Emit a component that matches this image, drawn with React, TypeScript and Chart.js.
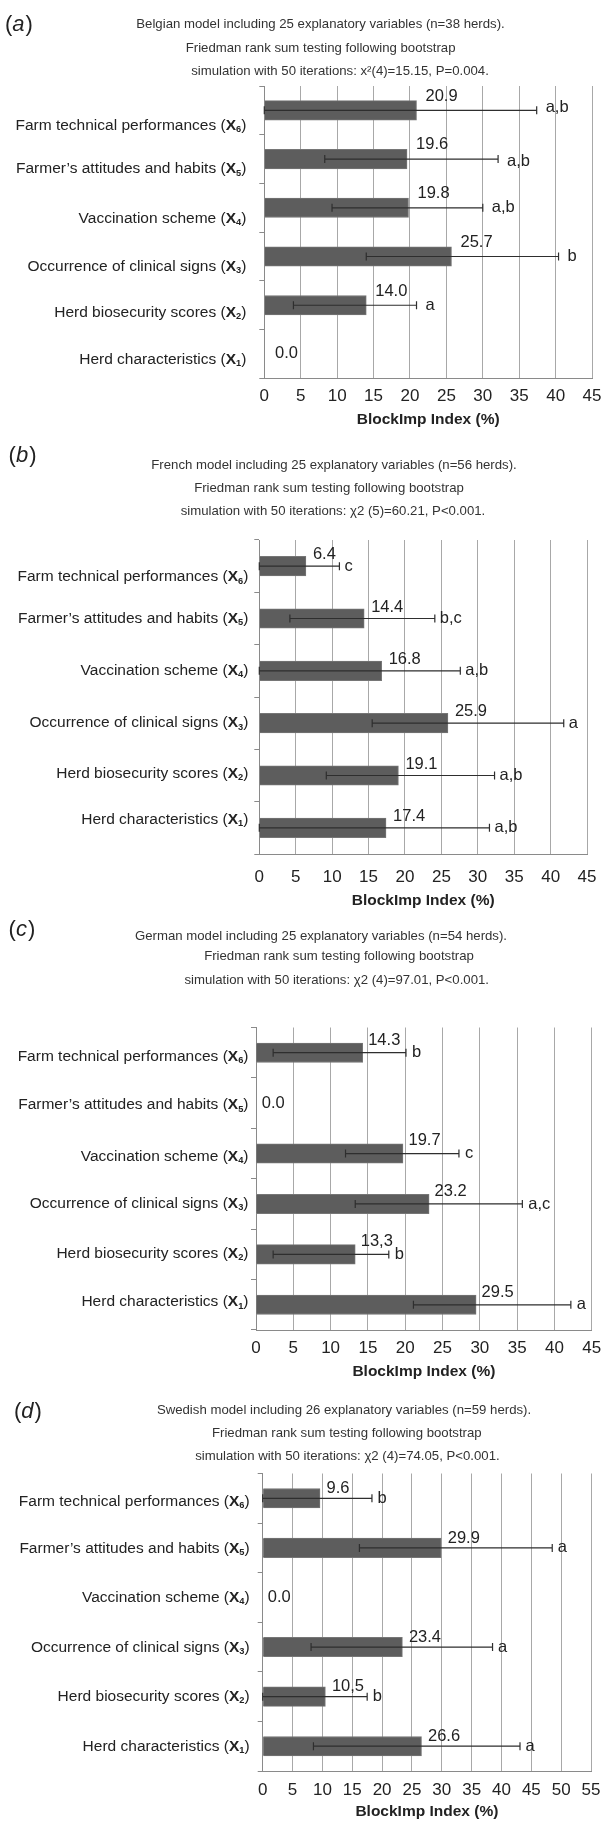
import React, { useEffect, useRef } from "react";
import { Chart, registerables } from "chart.js";

Chart.register(...registerables);

const FAMILY = '"Liberation Sans", Arial, Helvetica, sans-serif';

// Categories (top to bottom) and their block subscripts
const categories = [
  "Farm technical performances",
  "Farmer’s attitudes and habits",
  "Vaccination scheme",
  "Occurrence of clinical signs",
  "Herd biosecurity scores",
  "Herd characteristics",
];
const blockSubscripts = ["6", "5", "4", "3", "2", "1"];
const axisTitle = "BlockImp Index (%)";

// (a) Belgium
const titleA = [
  "Belgian model including 25 explanatory variables (n=38 herds).",
  "Friedman rank sum testing following bootstrap",
  "simulation with 50 iterations: x²(4)=15.15, P=0.004.",
];
const valuesA = [20.9, 19.6, 19.8, 25.7, 14.0, 0.0];
const valueTextA = ["20.9", "19.6", "19.8", "25.7", "14.0", "0.0"];
const lowA = [0, 8.3, 9.3, 14.0, 4.0, null];
const highA = [37.4, 32.1, 30.0, 40.4, 20.9, null];
const groupsA = ["a,b", "a,b", "a,b", "b", "a", ""];
const xMaxA = 45;

// (b) France
const titleB = [
  "French model including 25 explanatory variables (n=56 herds).",
  "Friedman rank sum testing following bootstrap",
  "simulation with 50 iterations: χ2 (5)=60.21, P<0.001.",
];
const valuesB = [6.4, 14.4, 16.8, 25.9, 19.1, 17.4];
const valueTextB = ["6.4", "14.4", "16.8", "25.9", "19.1", "17.4"];
const lowB = [0, 4.2, 0, 15.5, 9.2, 0];
const highB = [11.0, 24.1, 27.6, 41.8, 32.3, 31.6];
const groupsB = ["c", "b,c", "a,b", "a", "a,b", "a,b"];
const xMaxB = 45;

// (c) Germany
const titleC = [
  "German model including 25 explanatory variables (n=54 herds).",
  "Friedman rank sum testing following bootstrap",
  "simulation with 50 iterations: χ2 (4)=97.01, P<0.001.",
];
const valuesC = [14.3, 0.0, 19.7, 23.2, 13.3, 29.5];
const valueTextC = ["14.3", "0.0", "19.7", "23.2", "13,3", "29.5"];
const lowC = [2.3, null, 12.0, 13.3, 2.3, 21.1];
const highC = [20.1, null, 27.2, 35.7, 17.8, 42.2];
const groupsC = ["b", "", "c", "a,c", "b", "a"];
const xMaxC = 45;

// (d) Sweden
const titleD = [
  "Swedish model including 26 explanatory variables (n=59 herds).",
  "Friedman rank sum testing following bootstrap",
  "simulation with 50 iterations: χ2 (4)=74.05, P<0.001.",
];
const valuesD = [9.6, 29.9, 0.0, 23.4, 10.5, 26.6];
const valueTextD = ["9.6", "29.9", "0.0", "23.4", "10,5", "26.6"];
const lowD = [0, 16.2, null, 8.1, 0, 8.5];
const highD = [18.3, 48.5, null, 38.5, 17.5, 43.1];
const groupsD = ["b", "a", "", "a", "b", "a"];
const xMaxD = 55;

const tickStep = 5;

type Panel = {
  letter: string;
  title: string[];
  values: number[];
  valueText: string[];
  low: (number | null)[];
  high: (number | null)[];
  groups: string[];
  xMax: number;
  top: number;
  bottom: number;
  plot: { l: number; r: number; t: number; b: number };
  tickDy: number;
  titleDy: number;
  letterPos: { x: number; y: number };
  titleYs: number[];
  titleXs: number[];
  labelDx: number;
  labelDy: number;
  zeroDx: number;
  catDy: number[];
  catGap: number;
  errGap: number;
  groupDy: number[];
};

const panels: Panel[] = [
  {
    letter: "a", title: titleA, values: valuesA, valueText: valueTextA, low: lowA, high: highA, groups: groupsA, xMax: xMaxA,
    top: 0, bottom: 440, plot: { l: 264.3, r: 597.7, t: 86, b: 378.3 },
    tickDy: 18, titleDy: 41.7, letterPos: { x: 5, y: 25 },
    titleYs: [24.3, 48.3, 71], titleXs: [320.5, 320.6, 340],
    labelDx: 9, labelDy: -4.5, zeroDx: 10.7, catDy: [15, 10, 10.5, 10, 7.5, 6], catGap: 18, errGap: 9,
    groupDy: [-3, 2, 0, 0, 0, 0],
  },
  {
    letter: "b", title: titleB, values: valuesB, valueText: valueTextB, low: lowB, high: highB, groups: groupsB, xMax: xMaxB,
    top: 440, bottom: 915, plot: { l: 259.3, r: 598.3, t: 540, b: 854 },
    tickDy: 23, titleDy: 47, letterPos: { x: 8.6, y: 456 },
    titleYs: [465, 488.3, 511], titleXs: [334, 329, 333],
    labelDx: 7, labelDy: -1.5, zeroDx: 8, catDy: [11, 0, 0, 0, -2, -8.5], catGap: 11, errGap: 5,
    groupDy: [0, 0, 0, 0, 0, 0],
  },
  {
    letter: "c", title: titleC, values: valuesC, valueText: valueTextC, low: lowC, high: highC, groups: groupsC, xMax: xMaxC,
    top: 915, bottom: 1390, plot: { l: 256, r: 599.3, t: 1027.5, b: 1330 },
    tickDy: 18.3, titleDy: 41.7, letterPos: { x: 8.6, y: 930 },
    titleYs: [936.7, 956.7, 980], titleXs: [321, 339, 336.7],
    labelDx: 5.5, labelDy: -3, zeroDx: 5.7, catDy: [3.7, 2, 3.3, 0, -1, -2.7], catGap: 7.5, errGap: 6,
    groupDy: [0, 0, 0, 0, 0, 0],
  },
  {
    letter: "d", title: titleD, values: valuesD, valueText: valueTextD, low: lowD, high: highD, groups: groupsD, xMax: xMaxD,
    top: 1390, bottom: 1821, plot: { l: 262.7, r: 600.7, t: 1473.5, b: 1771 },
    tickDy: 19, titleDy: 41, letterPos: { x: 14, y: 1411.7 },
    titleYs: [1410, 1433.3, 1456.7], titleXs: [344, 346.8, 347.4],
    labelDx: 6.5, labelDy: 0, zeroDx: 5, catDy: [3, 0.7, 0, 0.7, 0, 0.7], catGap: 13, errGap: 5.5,
    groupDy: [0, 0, 0, 0, 0, 0],
  },
];

const TEXT = "#222222";
const CAT_SIZE = 15.5;
const VAL_SIZE = 16.5;
const TICK_SIZE = 17;
const TITLE_SIZE = 13.2;
const AXIS_TITLE_SIZE = 15.5;

function drawCategoryLabel(ctx: CanvasRenderingContext2D, name: string, sub: string, xRight: number, y: number) {
  const parts = [
    { t: name + " (", f: `${CAT_SIZE}px ${FAMILY}`, dy: 0 },
    { t: "X", f: `bold ${CAT_SIZE}px ${FAMILY}`, dy: 0 },
    { t: sub, f: `bold ${CAT_SIZE * 0.6}px ${FAMILY}`, dy: CAT_SIZE * 0.25 },
    { t: ")", f: `${CAT_SIZE}px ${FAMILY}`, dy: 0 },
  ];
  let total = 0;
  const widths = parts.map((p) => {
    ctx.font = p.f;
    const w = ctx.measureText(p.t).width;
    total += w;
    return w;
  });
  let x = xRight - total;
  ctx.textAlign = "left";
  ctx.textBaseline = "middle";
  ctx.fillStyle = TEXT;
  parts.forEach((p, i) => {
    ctx.font = p.f;
    ctx.fillText(p.t, x, y + p.dy);
    x += widths[i];
  });
}

function makePlugin(p: Panel) {
  return {
    id: "annot_" + p.letter,
    afterDatasetsDraw(chart: any) {
      const ctx: CanvasRenderingContext2D = chart.ctx;
      const xs = chart.scales.x;
      const ys = chart.scales.y;
      const meta = chart.getDatasetMeta(0);
      ctx.save();

      // panel letter
      ctx.textBaseline = "middle";
      ctx.textAlign = "left";
      ctx.fillStyle = TEXT;
      const ly = p.letterPos.y - p.top;
      let lx = p.letterPos.x;
      ctx.font = `22px ${FAMILY}`;
      ctx.fillText("(", lx, ly);
      lx += ctx.measureText("(").width;
      ctx.font = `italic 22px ${FAMILY}`;
      ctx.fillText(p.letter, lx, ly);
      lx += ctx.measureText(p.letter).width + 1;
      ctx.font = `22px ${FAMILY}`;
      ctx.fillText(")", lx, ly);

      // title lines
      ctx.font = `${TITLE_SIZE}px ${FAMILY}`;
      ctx.fillStyle = "#333333";
      ctx.textAlign = "center";
      p.title.forEach((line, i) => {
        ctx.fillText(line, p.titleXs[i], p.titleYs[i] - p.top);
      });

      // category labels
      categories.forEach((name, i) => {
        const y = ys.getPixelForValue(i) + p.catDy[i];
        drawCategoryLabel(ctx, name, blockSubscripts[i], xs.left - p.catGap, y);
      });

      // error bars, group letters and value labels
      meta.data.forEach((bar: any, i: number) => {
        const y = bar.y;
        const lo = p.low[i];
        const hi = p.high[i];
        if (lo !== null && hi !== null) {
          const x1 = xs.getPixelForValue(lo);
          const x2 = xs.getPixelForValue(hi);
          ctx.strokeStyle = "#2e2e2e";
          ctx.lineWidth = 1.2;
          ctx.beginPath();
          ctx.moveTo(x1, y);
          ctx.lineTo(x2, y);
          ctx.moveTo(x1, y - 4);
          ctx.lineTo(x1, y + 4);
          ctx.moveTo(x2, y - 4);
          ctx.lineTo(x2, y + 4);
          ctx.stroke();
          if (p.groups[i]) {
            ctx.font = `${VAL_SIZE}px ${FAMILY}`;
            ctx.fillStyle = TEXT;
            ctx.textAlign = "left";
            ctx.textBaseline = "middle";
            ctx.fillText(p.groups[i], x2 + p.errGap, y + p.groupDy[i]);
          }
        }
        ctx.font = `${VAL_SIZE}px ${FAMILY}`;
        ctx.fillStyle = TEXT;
        ctx.textAlign = "left";
        ctx.textBaseline = "middle";
        const v = p.values[i];
        if (v === 0) {
          ctx.fillText(p.valueText[i], xs.getPixelForValue(0) + p.zeroDx, y);
        } else {
          const topY = y - bar.height / 2;
          ctx.fillText(p.valueText[i], bar.x + p.labelDx, topY + p.labelDy);
        }
      });
      ctx.restore();
    },
  };
}

function PanelChart({ p }: { p: Panel }) {
  const ref = useRef<HTMLCanvasElement | null>(null);
  useEffect(() => {
    if (!ref.current) return;
    const H = p.titleDy + AXIS_TITLE_SIZE / 2;
    const height = p.bottom - p.top;
    const chart = new Chart(ref.current, {
      type: "bar",
      data: {
        labels: categories,
        datasets: [
          {
            data: p.values,
            backgroundColor: "#5d5d5d",
            borderColor: "#767676",
            borderWidth: 1,
            barThickness: 19.5,
          },
        ],
      },
      options: {
        indexAxis: "y",
        responsive: false,
        maintainAspectRatio: false,
        animation: false,
        devicePixelRatio: 1,
        layout: {
          padding: {
            left: p.plot.l,
            right: 611 - p.plot.r,
            top: p.plot.t - p.top,
            bottom: Math.max(0, height - (p.plot.b - p.top) - H),
          },
        },
        plugins: {
          legend: { display: false },
          tooltip: { enabled: false },
          title: { display: false },
        },
        scales: {
          x: {
            type: "linear",
            position: "bottom",
            min: 0,
            max: p.xMax,
            ticks: {
              stepSize: tickStep,
              autoSkip: false,
              maxRotation: 0,
              padding: p.tickDy - TICK_SIZE / 2,
              color: TEXT,
              font: { family: FAMILY, size: TICK_SIZE, lineHeight: 1 },
            },
            grid: { color: "#a8a8a8", lineWidth: 1, drawTicks: false },
            border: { display: true, color: "#8a8a8a", width: 1 },
            title: {
              display: true,
              text: axisTitle,
              color: TEXT,
              padding: 0,
              font: { family: FAMILY, size: AXIS_TITLE_SIZE, weight: "bold", lineHeight: 1 },
            },
            afterFit: (s: any) => {
              s.height = H;
            },
          },
          y: {
            type: "category",
            position: "left",
            ticks: { display: false },
            grid: { drawOnChartArea: false, drawTicks: true, tickLength: 5, color: "#8a8a8a" },
            border: { display: true, color: "#8a8a8a", width: 1 },
            afterFit: (s: any) => {
              s.width = 0;
            },
          },
        },
      } as any,
      plugins: [makePlugin(p)],
    });
    return () => chart.destroy();
  }, [p]);
  return (
    <canvas
      ref={ref}
      width={611}
      height={p.bottom - p.top}
      style={{ position: "absolute", left: 0, top: p.top, display: "block" }}
    />
  );
}

export default function App() {
  return (
    <div style={{ position: "absolute", left: 0, top: 0, width: 611, height: 1821, background: "#ffffff" }}>
      {panels.map((p) => (
        <PanelChart key={p.letter} p={p} />
      ))}
    </div>
  );
}
